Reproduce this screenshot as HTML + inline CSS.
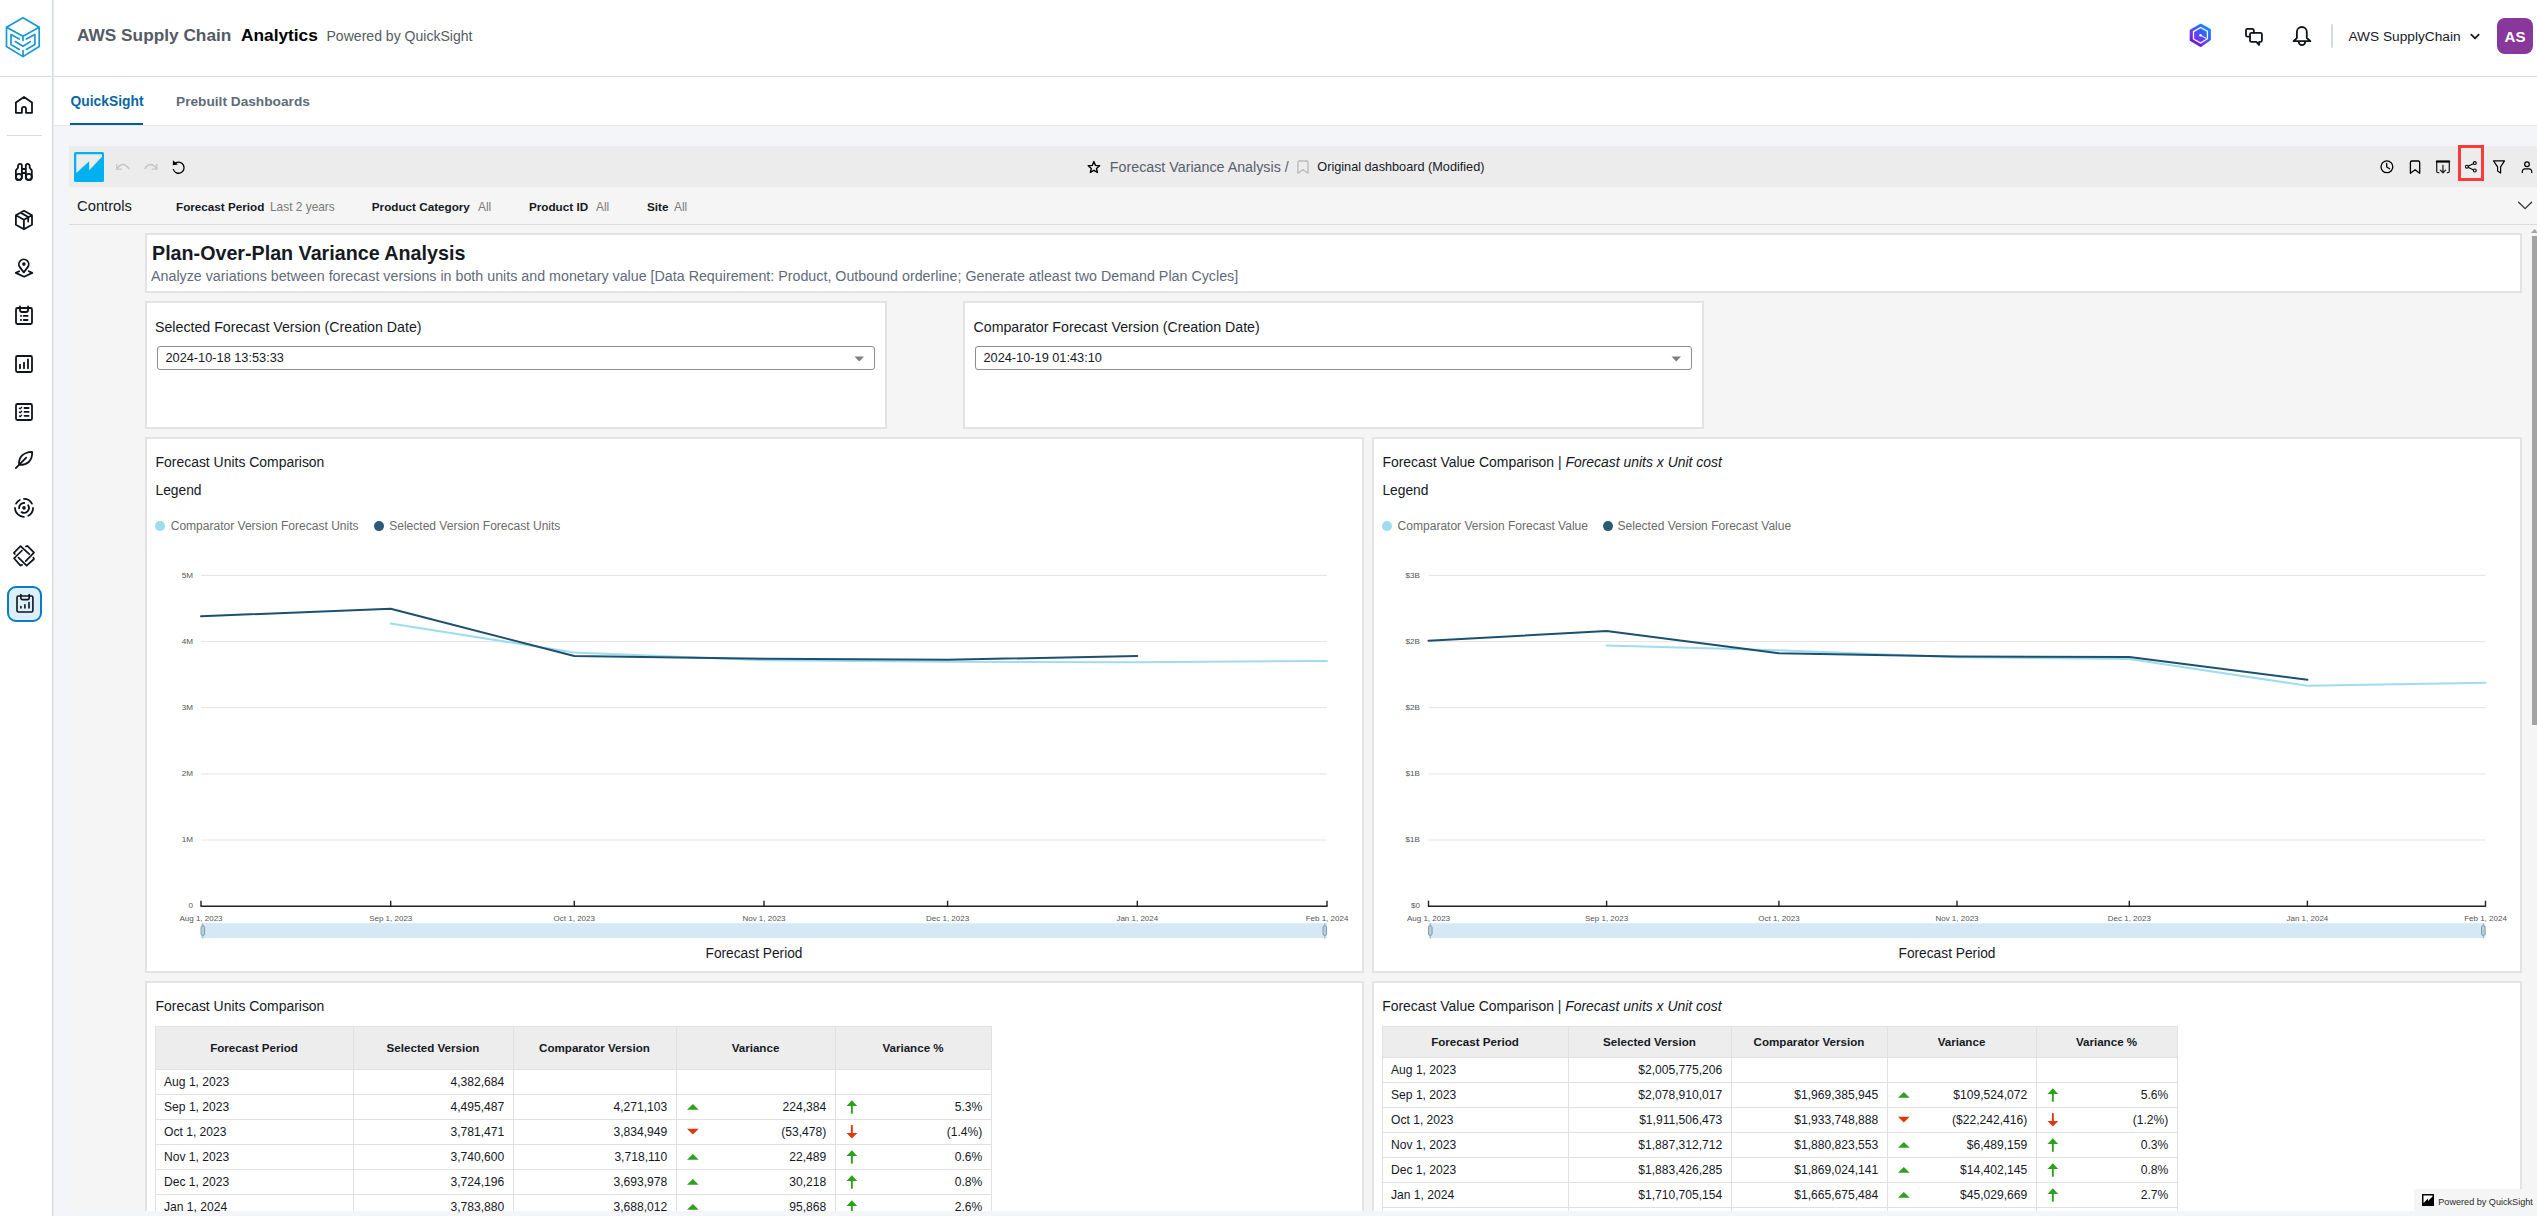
<!DOCTYPE html>
<html><head><meta charset="utf-8"><title>AWS Supply Chain Analytics</title><style>
*{margin:0;padding:0}
html,body{width:2537px;height:1216px;overflow:hidden;background:#fff}
body{position:relative;font-family:'Liberation Sans',Arial,sans-serif}
.t{position:absolute;white-space:pre}
.r{position:absolute;display:block}
svg{overflow:visible}
</style></head>
<body>
<div class="r" style="left:0px;top:0px;width:2537px;height:1216px;background:#ffffff;"></div>
<div class="r" style="left:54px;top:126px;width:2483px;height:1090px;background:#f4f5f8;"></div>
<div class="r" style="left:0px;top:76px;width:2537px;height:1px;background:#d5dbe0;"></div>
<div class="r" style="left:52px;top:0px;width:1px;height:1216px;background:#d3d9de;"></div>
<div class="r" style="left:53px;top:0px;width:1px;height:1216px;background:#e8ebee;"></div>
<div class="r" style="left:54px;top:125px;width:2483px;height:1px;background:#e7e9ec;"></div>
<div class="r" style="left:69px;top:146px;width:2468px;height:1065px;background:#f5f5f5;"></div>
<div class="r" style="left:69px;top:146px;width:2468px;height:41px;background:#ececec;"></div>
<div class="r" style="left:69px;top:224px;width:2468px;height:1px;background:#dcdcdc;"></div>
<div class="r" style="left:2497px;top:18px;width:36px;height:36px;background:#88379a;border-radius:8px;"></div>
<div class="r" style="left:2330.5px;top:24px;width:2px;height:24px;background:#d5dbe0;border-radius:1px;"></div>
<div class="r" style="left:70px;top:123px;width:73px;height:2px;background:#005f96;"></div>
<div class="r" style="left:145px;top:233px;width:2377px;height:60px;background:#ffffff;box-sizing:border-box;border:2px solid #e3e3e3;"></div>
<div class="r" style="left:145px;top:301px;width:742px;height:128px;background:#ffffff;box-sizing:border-box;border:2px solid #e3e3e3;"></div>
<div class="r" style="left:963px;top:301px;width:741px;height:128px;background:#ffffff;box-sizing:border-box;border:2px solid #e3e3e3;"></div>
<div class="r" style="left:145px;top:437px;width:1219px;height:536px;background:#ffffff;box-sizing:border-box;border:2px solid #e3e3e3;"></div>
<div class="r" style="left:1372px;top:437px;width:1150px;height:536px;background:#ffffff;box-sizing:border-box;border:2px solid #e3e3e3;"></div>
<div class="r" style="left:145px;top:981px;width:1219px;height:240px;background:#ffffff;box-sizing:border-box;border:2px solid #e3e3e3;"></div>
<div class="r" style="left:1372px;top:981px;width:1150px;height:240px;background:#ffffff;box-sizing:border-box;border:2px solid #e3e3e3;"></div>
<div class="r" style="left:157px;top:346px;width:718px;height:24px;background:#ffffff;box-sizing:border-box;border:1px solid #8d8d8d;border-radius:3px;"></div>
<svg class="r" style="left:854px;top:356px" width="11" height="6"><path d="M0.5 0.5 L10 0.5 L5.25 5.5 Z" fill="#7f7f7f"/></svg>
<div class="r" style="left:975px;top:346px;width:717px;height:24px;background:#ffffff;box-sizing:border-box;border:1px solid #8d8d8d;border-radius:3px;"></div>
<svg class="r" style="left:1671px;top:356px" width="11" height="6"><path d="M0.5 0.5 L10 0.5 L5.25 5.5 Z" fill="#7f7f7f"/></svg>
<svg class="r" style="left:0;top:0;font-family:'Liberation Sans',Arial,sans-serif" width="2537" height="1216"><line x1="201" y1="840.0" x2="1327" y2="840.0" stroke="#e4e4e4" stroke-width="1"/><line x1="201" y1="773.9" x2="1327" y2="773.9" stroke="#e4e4e4" stroke-width="1"/><line x1="201" y1="707.7" x2="1327" y2="707.7" stroke="#e4e4e4" stroke-width="1"/><line x1="201" y1="641.6" x2="1327" y2="641.6" stroke="#e4e4e4" stroke-width="1"/><line x1="201" y1="575.4" x2="1327" y2="575.4" stroke="#e4e4e4" stroke-width="1"/><text x="193.00" y="908.40" font-size="8.1" text-anchor="end" fill="#555" font-weight="400" font-style="normal">0</text><text x="193.00" y="842.24" font-size="8.1" text-anchor="end" fill="#555" font-weight="400" font-style="normal">1M</text><text x="193.00" y="776.08" font-size="8.1" text-anchor="end" fill="#555" font-weight="400" font-style="normal">2M</text><text x="193.00" y="709.92" font-size="8.1" text-anchor="end" fill="#555" font-weight="400" font-style="normal">3M</text><text x="193.00" y="643.76" font-size="8.1" text-anchor="end" fill="#555" font-weight="400" font-style="normal">4M</text><text x="193.00" y="577.60" font-size="8.1" text-anchor="end" fill="#555" font-weight="400" font-style="normal">5M</text><line x1="200.5" y1="906.2" x2="1327.5" y2="906.2" stroke="#222" stroke-width="1.6"/><line x1="201.0" y1="900.7" x2="201.0" y2="906.2" stroke="#222" stroke-width="1.4"/><text x="201.00" y="921.40" font-size="8.0" text-anchor="middle" fill="#555" font-weight="400" font-style="normal">Aug 1, 2023</text><line x1="390.7" y1="900.7" x2="390.7" y2="906.2" stroke="#222" stroke-width="1.4"/><text x="390.71" y="921.40" font-size="8.0" text-anchor="middle" fill="#555" font-weight="400" font-style="normal">Sep 1, 2023</text><line x1="574.3" y1="900.7" x2="574.3" y2="906.2" stroke="#222" stroke-width="1.4"/><text x="574.29" y="921.40" font-size="8.0" text-anchor="middle" fill="#555" font-weight="400" font-style="normal">Oct 1, 2023</text><line x1="764.0" y1="900.7" x2="764.0" y2="906.2" stroke="#222" stroke-width="1.4"/><text x="764.00" y="921.40" font-size="8.0" text-anchor="middle" fill="#555" font-weight="400" font-style="normal">Nov 1, 2023</text><line x1="947.6" y1="900.7" x2="947.6" y2="906.2" stroke="#222" stroke-width="1.4"/><text x="947.59" y="921.40" font-size="8.0" text-anchor="middle" fill="#555" font-weight="400" font-style="normal">Dec 1, 2023</text><line x1="1137.3" y1="900.7" x2="1137.3" y2="906.2" stroke="#222" stroke-width="1.4"/><text x="1137.29" y="921.40" font-size="8.0" text-anchor="middle" fill="#555" font-weight="400" font-style="normal">Jan 1, 2024</text><line x1="1327.0" y1="900.7" x2="1327.0" y2="906.2" stroke="#222" stroke-width="1.4"/><text x="1327.00" y="921.40" font-size="8.0" text-anchor="middle" fill="#555" font-weight="400" font-style="normal">Feb 1, 2024</text><polyline points="390.7,623.6 574.3,652.5 764.0,660.2 947.6,661.8 1137.3,662.2 1327.0,660.9" fill="none" stroke="#9fdcf0" stroke-width="2.0" stroke-linejoin="round" stroke-linecap="round"/><polyline points="201.0,616.2 390.7,608.8 574.3,656.0 764.0,658.7 947.6,659.8 1137.3,655.9" fill="none" stroke="#1c506e" stroke-width="2.0" stroke-linejoin="round" stroke-linecap="round"/><rect x="201" y="923.2" width="1126" height="14.8" fill="#d4e9f5"/><line x1="202.8" y1="923" x2="202.8" y2="938.5" stroke="#8aa6b5" stroke-width="0.8"/><rect x="201.0" y="925.8" width="3.6" height="9.6" rx="1.6" fill="#b9d0dc" stroke="#6f8a99" stroke-width="0.8"/><line x1="1324.8" y1="923" x2="1324.8" y2="938.5" stroke="#8aa6b5" stroke-width="0.8"/><rect x="1323.0" y="925.8" width="3.6" height="9.6" rx="1.6" fill="#b9d0dc" stroke="#6f8a99" stroke-width="0.8"/><line x1="1428.5" y1="840.0" x2="2485.5" y2="840.0" stroke="#e4e4e4" stroke-width="1"/><line x1="1428.5" y1="773.9" x2="2485.5" y2="773.9" stroke="#e4e4e4" stroke-width="1"/><line x1="1428.5" y1="707.7" x2="2485.5" y2="707.7" stroke="#e4e4e4" stroke-width="1"/><line x1="1428.5" y1="641.6" x2="2485.5" y2="641.6" stroke="#e4e4e4" stroke-width="1"/><line x1="1428.5" y1="575.4" x2="2485.5" y2="575.4" stroke="#e4e4e4" stroke-width="1"/><text x="1420.00" y="908.40" font-size="8.1" text-anchor="end" fill="#555" font-weight="400" font-style="normal">$0</text><text x="1420.00" y="842.24" font-size="8.1" text-anchor="end" fill="#555" font-weight="400" font-style="normal">$1B</text><text x="1420.00" y="776.08" font-size="8.1" text-anchor="end" fill="#555" font-weight="400" font-style="normal">$1B</text><text x="1420.00" y="709.92" font-size="8.1" text-anchor="end" fill="#555" font-weight="400" font-style="normal">$2B</text><text x="1420.00" y="643.76" font-size="8.1" text-anchor="end" fill="#555" font-weight="400" font-style="normal">$2B</text><text x="1420.00" y="577.60" font-size="8.1" text-anchor="end" fill="#555" font-weight="400" font-style="normal">$3B</text><line x1="1428.0" y1="906.2" x2="2486.0" y2="906.2" stroke="#222" stroke-width="1.6"/><line x1="1428.5" y1="900.7" x2="1428.5" y2="906.2" stroke="#222" stroke-width="1.4"/><text x="1428.50" y="921.40" font-size="8.0" text-anchor="middle" fill="#555" font-weight="400" font-style="normal">Aug 1, 2023</text><line x1="1606.6" y1="900.7" x2="1606.6" y2="906.2" stroke="#222" stroke-width="1.4"/><text x="1606.58" y="921.40" font-size="8.0" text-anchor="middle" fill="#555" font-weight="400" font-style="normal">Sep 1, 2023</text><line x1="1778.9" y1="900.7" x2="1778.9" y2="906.2" stroke="#222" stroke-width="1.4"/><text x="1778.92" y="921.40" font-size="8.0" text-anchor="middle" fill="#555" font-weight="400" font-style="normal">Oct 1, 2023</text><line x1="1957.0" y1="900.7" x2="1957.0" y2="906.2" stroke="#222" stroke-width="1.4"/><text x="1957.00" y="921.40" font-size="8.0" text-anchor="middle" fill="#555" font-weight="400" font-style="normal">Nov 1, 2023</text><line x1="2129.3" y1="900.7" x2="2129.3" y2="906.2" stroke="#222" stroke-width="1.4"/><text x="2129.34" y="921.40" font-size="8.0" text-anchor="middle" fill="#555" font-weight="400" font-style="normal">Dec 1, 2023</text><line x1="2307.4" y1="900.7" x2="2307.4" y2="906.2" stroke="#222" stroke-width="1.4"/><text x="2307.42" y="921.40" font-size="8.0" text-anchor="middle" fill="#555" font-weight="400" font-style="normal">Jan 1, 2024</text><line x1="2485.5" y1="900.7" x2="2485.5" y2="906.2" stroke="#222" stroke-width="1.4"/><text x="2485.50" y="921.40" font-size="8.0" text-anchor="middle" fill="#555" font-weight="400" font-style="normal">Feb 1, 2024</text><polyline points="1606.6,645.6 1778.9,650.3 1957.0,657.3 2129.3,658.9 2307.4,685.8 2485.5,682.7" fill="none" stroke="#9fdcf0" stroke-width="2.0" stroke-linejoin="round" stroke-linecap="round"/><polyline points="1428.5,640.8 1606.6,631.1 1778.9,653.3 1957.0,656.5 2129.3,657.0 2307.4,679.8" fill="none" stroke="#1c506e" stroke-width="2.0" stroke-linejoin="round" stroke-linecap="round"/><rect x="1428.5" y="923.2" width="1057.0" height="14.8" fill="#d4e9f5"/><line x1="1430.3" y1="923" x2="1430.3" y2="938.5" stroke="#8aa6b5" stroke-width="0.8"/><rect x="1428.5" y="925.8" width="3.6" height="9.6" rx="1.6" fill="#b9d0dc" stroke="#6f8a99" stroke-width="0.8"/><line x1="2483.3" y1="923" x2="2483.3" y2="938.5" stroke="#8aa6b5" stroke-width="0.8"/><rect x="2481.5" y="925.8" width="3.6" height="9.6" rx="1.6" fill="#b9d0dc" stroke="#6f8a99" stroke-width="0.8"/><circle cx="160" cy="526.1" r="5" fill="#9fdcf0"/><circle cx="379" cy="526.1" r="5" fill="#2b5a78"/><circle cx="1387" cy="526.1" r="5" fill="#9fdcf0"/><circle cx="1608" cy="526.1" r="5" fill="#2b5a78"/></svg>
<div class="r" style="left:155px;top:1026px;width:836px;height:43px;background:#ededed;"></div>
<div class="r" style="left:155px;top:1026px;width:1px;height:185px;background:#e1e1e1;"></div>
<div class="r" style="left:353px;top:1026px;width:1px;height:185px;background:#e1e1e1;"></div>
<div class="r" style="left:513px;top:1026px;width:1px;height:185px;background:#e1e1e1;"></div>
<div class="r" style="left:676px;top:1026px;width:1px;height:185px;background:#e1e1e1;"></div>
<div class="r" style="left:835px;top:1026px;width:1px;height:185px;background:#e1e1e1;"></div>
<div class="r" style="left:991px;top:1026px;width:1px;height:185px;background:#e1e1e1;"></div>
<div class="r" style="left:155px;top:1026px;width:837px;height:1px;background:#e1e1e1;"></div>
<div class="r" style="left:155px;top:1069px;width:837px;height:1px;background:#e1e1e1;"></div>
<div class="r" style="left:155px;top:1094px;width:837px;height:1px;background:#e1e1e1;"></div>
<div class="r" style="left:155px;top:1119px;width:837px;height:1px;background:#e1e1e1;"></div>
<div class="r" style="left:155px;top:1144px;width:837px;height:1px;background:#e1e1e1;"></div>
<div class="r" style="left:155px;top:1169px;width:837px;height:1px;background:#e1e1e1;"></div>
<div class="r" style="left:155px;top:1194px;width:837px;height:1px;background:#e1e1e1;"></div>
<svg class="r" style="left:0;top:0" width="2537" height="1211"><path d="M687.0 1109.8 L698.7 1109.8 L692.9 1104.0 Z" fill="#2da01d"/><rect x="850.90" y="1105.00" width="1.9" height="8.70" fill="#2da01d"/><path d="M846.50 1105.90 L851.85 1100.30 L857.20 1105.90 Z" fill="#2da01d"/><path d="M687.0 1128.8 L698.7 1128.8 L692.9 1134.6 Z" fill="#dc3a0d"/><rect x="850.90" y="1125.10" width="1.9" height="8.70" fill="#dc3a0d"/><path d="M846.50 1133.10 L851.85 1138.60 L857.20 1133.10 Z" fill="#dc3a0d"/><path d="M687.0 1159.8 L698.7 1159.8 L692.9 1154.0 Z" fill="#2da01d"/><rect x="850.90" y="1155.00" width="1.9" height="8.70" fill="#2da01d"/><path d="M846.50 1155.90 L851.85 1150.30 L857.20 1155.90 Z" fill="#2da01d"/><path d="M687.0 1184.8 L698.7 1184.8 L692.9 1179.0 Z" fill="#2da01d"/><rect x="850.90" y="1180.00" width="1.9" height="8.70" fill="#2da01d"/><path d="M846.50 1180.90 L851.85 1175.30 L857.20 1180.90 Z" fill="#2da01d"/><path d="M687.0 1209.8 L698.7 1209.8 L692.9 1204.0 Z" fill="#2da01d"/><rect x="850.90" y="1205.00" width="1.9" height="8.70" fill="#2da01d"/><path d="M846.50 1205.90 L851.85 1200.30 L857.20 1205.90 Z" fill="#2da01d"/></svg>
<div class="r" style="left:1382px;top:1026px;width:795px;height:31px;background:#ededed;"></div>
<div class="r" style="left:1382px;top:1026px;width:1px;height:185px;background:#e1e1e1;"></div>
<div class="r" style="left:1568px;top:1026px;width:1px;height:185px;background:#e1e1e1;"></div>
<div class="r" style="left:1731px;top:1026px;width:1px;height:185px;background:#e1e1e1;"></div>
<div class="r" style="left:1887px;top:1026px;width:1px;height:185px;background:#e1e1e1;"></div>
<div class="r" style="left:2036px;top:1026px;width:1px;height:185px;background:#e1e1e1;"></div>
<div class="r" style="left:2177px;top:1026px;width:1px;height:185px;background:#e1e1e1;"></div>
<div class="r" style="left:1382px;top:1026px;width:796px;height:1px;background:#e1e1e1;"></div>
<div class="r" style="left:1382px;top:1057px;width:796px;height:1px;background:#e1e1e1;"></div>
<div class="r" style="left:1382px;top:1082px;width:796px;height:1px;background:#e1e1e1;"></div>
<div class="r" style="left:1382px;top:1107px;width:796px;height:1px;background:#e1e1e1;"></div>
<div class="r" style="left:1382px;top:1132px;width:796px;height:1px;background:#e1e1e1;"></div>
<div class="r" style="left:1382px;top:1157px;width:796px;height:1px;background:#e1e1e1;"></div>
<div class="r" style="left:1382px;top:1182px;width:796px;height:1px;background:#e1e1e1;"></div>
<div class="r" style="left:1382px;top:1207px;width:796px;height:1px;background:#e1e1e1;"></div>
<svg class="r" style="left:0;top:0" width="2537" height="1211"><path d="M1898.0 1097.8 L1909.7 1097.8 L1903.8 1092.0 Z" fill="#2da01d"/><rect x="2051.90" y="1093.00" width="1.9" height="8.70" fill="#2da01d"/><path d="M2047.50 1093.90 L2052.85 1088.30 L2058.20 1093.90 Z" fill="#2da01d"/><path d="M1898.0 1116.8 L1909.7 1116.8 L1903.8 1122.6 Z" fill="#dc3a0d"/><rect x="2051.90" y="1113.10" width="1.9" height="8.70" fill="#dc3a0d"/><path d="M2047.50 1121.10 L2052.85 1126.60 L2058.20 1121.10 Z" fill="#dc3a0d"/><path d="M1898.0 1147.8 L1909.7 1147.8 L1903.8 1142.0 Z" fill="#2da01d"/><rect x="2051.90" y="1143.00" width="1.9" height="8.70" fill="#2da01d"/><path d="M2047.50 1143.90 L2052.85 1138.30 L2058.20 1143.90 Z" fill="#2da01d"/><path d="M1898.0 1172.8 L1909.7 1172.8 L1903.8 1167.0 Z" fill="#2da01d"/><rect x="2051.90" y="1168.00" width="1.9" height="8.70" fill="#2da01d"/><path d="M2047.50 1168.90 L2052.85 1163.30 L2058.20 1168.90 Z" fill="#2da01d"/><path d="M1898.0 1197.8 L1909.7 1197.8 L1903.8 1192.0 Z" fill="#2da01d"/><rect x="2051.90" y="1193.00" width="1.9" height="8.70" fill="#2da01d"/><path d="M2047.50 1193.90 L2052.85 1188.30 L2058.20 1193.90 Z" fill="#2da01d"/></svg>
<div class="r" style="left:2532px;top:236px;width:5px;height:489px;background:#a3a3a3;"></div>
<svg class="r" style="left:2530px;top:227px" width="8" height="8"><path d="M1 6 L4.5 2 L8 6 Z" fill="#a3a3a3"/></svg>
<div class="r" style="left:54px;top:1211px;width:2483px;height:5px;background:#f4f5f8;"></div>
<div class="r" style="left:2414px;top:1189px;width:123px;height:22px;background:#f5f5f5;"></div>
<svg class="r" style="left:2422px;top:1194px" width="12" height="12"><rect width="12" height="12" fill="#000"/><path d="M1.5 1.5 L10.5 1.5 L10.5 2.5 L6 7 L6 4.5 L1.5 9 Z" fill="#fff"/></svg>
<div class="r" style="left:7px;top:135px;width:35px;height:1px;background:#d5dbe0;"></div>
<div class="r" style="left:7px;top:586px;width:35px;height:36px;background:#dcf0fb;box-sizing:border-box;border:2px solid #0b7cbe;border-radius:9px;"></div>
<svg class="r" style="left:0;top:0" width="2537" height="1216"><path d="M23 17.8 L39.2 27.2 L39.2 46.5 L23 56.6 L6.5 46.5 L6.5 27.2 Z M6.5 27.2 L23 36.3 L39.2 27.2 M23 36.3 V40.4 M19.3 39.1 L11 34.4 V44.5 L19.3 49.4 M15.2 41.6 L23 46.3 L30.4 41.6 M26.3 39.1 L34.9 34.4 V44.5 L26.3 49.4 M23 50.7 V56.6" fill="none" stroke="#1798d5" stroke-width="1.7" stroke-linecap="round" stroke-linejoin="round" /><path d="M21.9 112.8 V108.9 A2.05 2.05 0 0 1 26 108.9 V112.8 H32 V102.6 L24 97 L15.9 102.6 V112.8 Z" fill="none" stroke="#0f141a" stroke-width="1.8" stroke-linecap="round" stroke-linejoin="round" /><path d="M18 165.9 A1.95 1.95 0 0 1 21.9 165.9 V176.9 A3 3 0 0 1 15.9 176.9 V170.4 L18 167.8 Z" fill="none" stroke="#0f141a" stroke-width="1.8" stroke-linecap="round" stroke-linejoin="round" /><path d="M18 165.9 A1.95 1.95 0 0 1 21.9 165.9 V176.9 A3 3 0 0 1 15.9 176.9 V170.4 L18 167.8 Z" fill="none" stroke="#0f141a" stroke-width="1.8" stroke-linecap="round" stroke-linejoin="round" transform="translate(47.7 0) scale(-1 1)"/><circle cx="18.9" cy="176.9" r="3" fill="none" stroke="#0f141a" stroke-width="1.8"/><circle cx="28.8" cy="176.9" r="3" fill="none" stroke="#0f141a" stroke-width="1.8"/><path d="M22 169 H25.7 M22 173 H25.7" fill="none" stroke="#0f141a" stroke-width="1.8" stroke-linecap="round" stroke-linejoin="round" /><path d="M24 210.7 L32 215.3 L32 224.7 L23.9 229.3 L15.9 224.7 L15.9 215.3 Z M15.9 215.3 L23.9 219.8 L32 215.3 M23.9 219.8 V229.3 M20.6 212.6 L28.2 217 V221.6" fill="none" stroke="#0f141a" stroke-width="1.8" stroke-linecap="round" stroke-linejoin="round" /><path d="M23.8 272.4 L19.87 267.13 A4.9 4.9 0 1 1 27.73 267.13 Z" fill="none" stroke="#0f141a" stroke-width="1.8" stroke-linecap="round" stroke-linejoin="round" /><circle cx="23.9" cy="264.1" r="1.8" fill="#0f141a"/><path d="M19.2 271.2 L15.8 272.9 L24.1 276.8 L32.3 272.9 L28.7 271.2" fill="none" stroke="#0f141a" stroke-width="1.8" stroke-linecap="round" stroke-linejoin="round" /><path d="M20 308 H17.5 A1.5 1.5 0 0 0 16 309.5 V322.5 A1.5 1.5 0 0 0 17.5 324 H30.5 A1.5 1.5 0 0 0 32 322.5 V309.5 A1.5 1.5 0 0 0 30.5 308 H28 M20 306.4 V310 A2 2 0 0 0 22 312 H26.1 A2 2 0 0 0 28.1 310 V306.4 M20 308 H28" fill="none" stroke="#0f141a" stroke-width="1.8" stroke-linecap="round" stroke-linejoin="round" /><path d="M20.9 315.9 H21.1 M20.9 320 H21.1 M23.7 315.9 H27.6 M23.7 320 H27.6" fill="none" stroke="#0f141a" stroke-width="1.8" stroke-linecap="round" stroke-linejoin="round" /><path d="M17.5 356 H30.5 A1.5 1.5 0 0 1 32 357.5 V370.5 A1.5 1.5 0 0 1 30.5 372 H17.5 A1.5 1.5 0 0 1 16 370.5 V357.5 A1.5 1.5 0 0 1 17.5 356 Z M20 368.3 V364.6 M24 368.3 V362.6 M28 368.3 V359.5" fill="none" stroke="#0f141a" stroke-width="1.8" stroke-linecap="round" stroke-linejoin="round" /><path d="M17.5 404 H30.5 A1.5 1.5 0 0 1 32 405.5 V418.5 A1.5 1.5 0 0 1 30.5 420 H17.5 A1.5 1.5 0 0 1 16 418.5 V405.5 A1.5 1.5 0 0 1 17.5 404 Z M24.5 408 H28.6 M24.5 411.9 H28.6 M24.5 415.8 H28.6" fill="none" stroke="#0f141a" stroke-width="1.8" stroke-linecap="round" stroke-linejoin="round" /><path d="M19.4 408.2 L20.3 408.8 L21.6 407.3 M19.4 412.1 L20.3 412.7 L21.6 411.2 M19.4 416 L20.3 416.6 L21.6 415.1" fill="none" stroke="#0f141a" stroke-width="1.3" stroke-linecap="round" stroke-linejoin="round" /><path d="M19 464.9 C18.4 457.5 23 452.2 32.1 451.9 C32.6 460.5 27.6 465.2 19 464.9 Z M19 464.9 L15.8 468.1 M20.7 463.1 L26.2 457.6" fill="none" stroke="#0f141a" stroke-width="1.8" stroke-linecap="round" stroke-linejoin="round" /><path d="M24.00 498.90 A9.0 9.0 0 0 1 31.95 503.67" fill="none" stroke="#0f141a" stroke-width="1.8" stroke-linecap="round" stroke-linejoin="round" /><path d="M33.00 507.90 A9.0 9.0 0 0 1 28.36 515.77" fill="none" stroke="#0f141a" stroke-width="1.8" stroke-linecap="round" stroke-linejoin="round" /><path d="M23.84 516.90 A9.0 9.0 0 0 1 15.00 507.90" fill="none" stroke="#0f141a" stroke-width="1.8" stroke-linecap="round" stroke-linejoin="round" /><path d="M16.05 503.67 A9.0 9.0 0 0 1 19.77 499.95" fill="none" stroke="#0f141a" stroke-width="1.8" stroke-linecap="round" stroke-linejoin="round" /><path d="M19.11 508.24 A4.9 4.9 0 0 1 24.26 503.01" fill="none" stroke="#0f141a" stroke-width="1.8" stroke-linecap="round" stroke-linejoin="round" /><path d="M28.16 505.30 A4.9 4.9 0 0 1 21.55 512.14" fill="none" stroke="#0f141a" stroke-width="1.8" stroke-linecap="round" stroke-linejoin="round" /><circle cx="24" cy="507.9" r="1.8" fill="#0f141a"/><path d="M14.8 554.1 L13.9 552.8 L20.5 546.1 L29.3 554.2 M25.9 546.5 L27.4 545.9 L34 552.6 L25.7 561.2 M22 550.5 L14 558.3 L20.5 565.6 L22.2 564.8 M18.5 557.7 L26.6 565.6 L34 559 L33.3 557.7" fill="none" stroke="#0f141a" stroke-width="1.7" stroke-linecap="round" stroke-linejoin="round" /><path d="M20.9 596 H18.5 A1.5 1.5 0 0 0 17 597.5 V610.5 A1.5 1.5 0 0 0 18.5 612 H31.4 A1.5 1.5 0 0 0 32.9 610.5 V597.5 A1.5 1.5 0 0 0 31.4 596 H29.2 M20.9 594.6 V598 A1.6 1.6 0 0 0 22.5 599.6 H27.6 A1.6 1.6 0 0 0 29.2 598 V594.6 M20.9 596 H29.2 M20.9 606.6 V607.9 M24.9 604.7 V607.9 M29 602.6 V607.9" fill="none" stroke="#0f141a" stroke-width="1.6" stroke-linecap="round" stroke-linejoin="round" /><defs><linearGradient id="qg" x1="1" y1="0" x2="0.2" y2="1"><stop offset="0" stop-color="#0a9bff"/><stop offset="0.45" stop-color="#3a5cff"/><stop offset="0.75" stop-color="#7a2ff5"/><stop offset="1" stop-color="#5514c4"/></linearGradient></defs><path d="M2200.6 25 L2209.6 29.9 L2209.6 39.5 L2200.6 45.6 L2191 40 L2191 30.7 Z" fill="url(#qg)" stroke="url(#qg)" stroke-width="2.6" stroke-linejoin="round"/><path d="M2200.6 27.5 L2207.4 31.2 L2207.4 38.7 L2200.6 43 L2193.5 39 L2193.5 31.6 Z" fill="none" stroke="#fff" stroke-width="1.3" stroke-linejoin="round"/><circle cx="2200.6" cy="35.3" r="1.3" fill="#fff"/><path d="M2200.6 35.3 L2206.2 38.3" stroke="#fff" stroke-width="1"/><path d="M2249.9 36.7 H2247.5 A1.5 1.5 0 0 1 2246 35.2 V30.4 A1.5 1.5 0 0 1 2247.5 28.9 H2252.3 A1.5 1.5 0 0 1 2253.8 30.4 V32.9" fill="none" stroke="#0f141a" stroke-width="1.8" stroke-linecap="round" stroke-linejoin="round" /><path d="M2256.3 41.9 H2251.5 A1.5 1.5 0 0 1 2250 40.4 V34.4 A1.5 1.5 0 0 1 2251.5 32.9 H2260.4 A1.5 1.5 0 0 1 2261.9 34.4 V40.4 A1.5 1.5 0 0 1 2260.4 41.9 H2259.2 L2259 44.9 Z" fill="none" stroke="#0f141a" stroke-width="1.8" stroke-linecap="round" stroke-linejoin="round" /><path d="M2293.6 41.2 L2296.9 38 V32 A4.95 5 0 0 1 2306.8 32 V38 L2310.4 41.2 Z M2298.7 41.8 A3.3 3.3 0 0 0 2305.3 41.8" fill="none" stroke="#0f141a" stroke-width="1.8" stroke-linecap="round" stroke-linejoin="round" /><path d="M2471.3 34.7 L2475 38.4 L2478.7 34.7" fill="none" stroke="#16191f" stroke-width="1.8" stroke-linecap="round" stroke-linejoin="round" /><rect x="74" y="152" width="30" height="30" rx="1.5" fill="#00b0ef"/><path d="M76.3 154.2 L102 154.2 L102 156.8 L89.2 170.3 L89.2 161.2 L76.3 173 Z" fill="#ececec"/><path d="M128.9 168.6 Q123 160.6 117.3 168.2 M116.8 164.5 V169.2 H121.4" fill="none" stroke="#c4c4c4" stroke-width="1.3" stroke-linecap="round" stroke-linejoin="round" /><path d="M144.7 168.6 Q150.6 160.6 156.3 168.2 M156.8 164.5 V169.2 H152.2" fill="none" stroke="#c4c4c4" stroke-width="1.3" stroke-linecap="round" stroke-linejoin="round" /><path d="M173.4 169.6 A5.5 5.5 0 1 0 175.6 163.1" fill="none" stroke="#000" stroke-width="1.3" stroke-linecap="round" stroke-linejoin="round" /><path d="M172.9 160.3 L172.9 165.3 L177.9 164.6 Z" fill="#000"/><path d="M1093.90 161.60 L1095.49 165.42 L1099.61 165.75 L1096.47 168.43 L1097.43 172.45 L1093.90 170.30 L1090.37 172.45 L1091.33 168.43 L1088.19 165.75 L1092.31 165.42 Z" fill="none" stroke="#000" stroke-width="1.4" stroke-linecap="round" stroke-linejoin="round" /><path d="M1297.9 173.3 V162.5 A1.5 1.5 0 0 1 1299.4 161 H1306.5 A1.5 1.5 0 0 1 1308 162.5 V173.3 L1302.95 169.8 Z" fill="none" stroke="#b9b9b9" stroke-width="1.3" stroke-linecap="round" stroke-linejoin="round" /><circle cx="2386.9" cy="166.8" r="5.9" fill="none" stroke="#000" stroke-width="1.3"/><path d="M2386.7 163.5 V167 L2389.6 168.7" fill="none" stroke="#000" stroke-width="1.3" stroke-linecap="round" stroke-linejoin="round" /><path d="M2410.4 173.3 V162.5 A1.5 1.5 0 0 1 2411.9 161 H2418.2 A1.5 1.5 0 0 1 2419.7 162.5 V173.3 L2415.05 169.8 Z" fill="none" stroke="#000" stroke-width="1.3" stroke-linecap="round" stroke-linejoin="round" /><path d="M2438.8 172.7 H2438.2 A1.5 1.5 0 0 1 2436.7 171.2 V161.5 H2449.3 V171.2 A1.5 1.5 0 0 1 2447.8 172.7 H2447.3" fill="none" stroke="#222" stroke-width="1.3" stroke-linecap="round" stroke-linejoin="round" /><path d="M2436.7 161.5 H2449.3" fill="none" stroke="#000" stroke-width="1.8" stroke-linecap="round" stroke-linejoin="round" /><path d="M2442.95 165.4 V172.6 M2440.3 170.1 L2442.95 172.7 L2445.6 170.1" fill="none" stroke="#222" stroke-width="1.3" stroke-linecap="round" stroke-linejoin="round" /><rect x="2459.5" y="146.5" width="23" height="33" fill="none" stroke="#fb3a3a" stroke-width="3"/><path d="M2466.9 166.7 L2474.8 163.1 M2466.9 166.7 L2474.8 170.5" fill="none" stroke="#000" stroke-width="1.1" stroke-linecap="round" stroke-linejoin="round" /><circle cx="2474.8" cy="163.1" r="1.45" fill="#eee" stroke="#000" stroke-width="1.1"/><circle cx="2466.9" cy="166.7" r="1.45" fill="#eee" stroke="#000" stroke-width="1.1"/><circle cx="2474.8" cy="170.5" r="1.45" fill="#eee" stroke="#000" stroke-width="1.1"/><path d="M2493.5 160.9 H2504.5 L2500.6 166.9 V173.1 L2497.6 171 V166.9 Z" fill="none" stroke="#000" stroke-width="1.2" stroke-linecap="round" stroke-linejoin="round" /><circle cx="2527" cy="164.3" r="2.35" fill="none" stroke="#000" stroke-width="1.2"/><path d="M2522.3 172.4 V171.5 A2.6 2.6 0 0 1 2524.9 168.9 H2529.1 A2.6 2.6 0 0 1 2531.7 171.5 V172.4" fill="none" stroke="#000" stroke-width="1.2" stroke-linecap="round" stroke-linejoin="round" /><path d="M2518.6 202.2 L2525.1 208.6 L2531.6 202.2" fill="none" stroke="#333" stroke-width="1.3" stroke-linecap="round" stroke-linejoin="round" /></svg>
<svg class="r" style="left:0;top:0" width="2537" height="1216" font-family="Liberation Sans, Arial, sans-serif"><text x="77.00" y="41.00" font-size="17.25" font-weight="700" fill="#545b64" font-style="normal" text-anchor="start" >AWS Supply Chain</text><text x="241.00" y="41.00" font-size="17.3" font-weight="700" fill="#000000" font-style="normal" text-anchor="start" >Analytics</text><text x="326.50" y="41.00" font-size="14.05" font-weight="400" fill="#545b64" font-style="normal" text-anchor="start" >Powered by QuickSight</text><text x="2348.50" y="40.90" font-size="13.7" font-weight="400" fill="#16191f" font-style="normal" text-anchor="start" >AWS SupplyChain</text><text x="2515.00" y="42.00" font-size="15.1" font-weight="700" fill="#ffffff" font-style="normal" text-anchor="middle" >AS</text><text x="70.50" y="105.90" font-size="13.85" font-weight="700" fill="#0868a3" font-style="normal" text-anchor="start" >QuickSight</text><text x="176.00" y="105.90" font-size="13.7" font-weight="700" fill="#5f6b7a" font-style="normal" text-anchor="start" >Prebuilt Dashboards</text><text x="1109.80" y="172.40" font-size="14.27" font-weight="400" fill="#58606c" font-style="normal" text-anchor="start" >Forecast Variance Analysis /</text><text x="1317.30" y="171.00" font-size="12.7" font-weight="400" fill="#16191f" font-style="normal" text-anchor="start" >Original dashboard (Modified)</text><text x="77.00" y="210.80" font-size="14.77" font-weight="400" fill="#16191f" font-style="normal" text-anchor="start" >Controls</text><text x="176.00" y="210.70" font-size="11.7" font-weight="700" fill="#16191f" font-style="normal" text-anchor="start" >Forecast Period</text><text x="270.00" y="210.70" font-size="11.9" font-weight="400" fill="#7a7a7a" font-style="normal" text-anchor="start" >Last 2 years</text><text x="371.80" y="210.70" font-size="11.7" font-weight="700" fill="#16191f" font-style="normal" text-anchor="start" >Product Category</text><text x="478.00" y="210.70" font-size="11.9" font-weight="400" fill="#7a7a7a" font-style="normal" text-anchor="start" >All</text><text x="529.00" y="210.70" font-size="11.7" font-weight="700" fill="#16191f" font-style="normal" text-anchor="start" >Product ID</text><text x="596.00" y="210.70" font-size="11.9" font-weight="400" fill="#7a7a7a" font-style="normal" text-anchor="start" >All</text><text x="647.00" y="210.70" font-size="11.7" font-weight="700" fill="#16191f" font-style="normal" text-anchor="start" >Site</text><text x="674.00" y="210.70" font-size="11.9" font-weight="400" fill="#7a7a7a" font-style="normal" text-anchor="start" >All</text><text x="152.00" y="259.80" font-size="19.7" font-weight="700" fill="#16191f" font-style="normal" text-anchor="start" >Plan-Over-Plan Variance Analysis</text><text x="151.00" y="281.20" font-size="14.28" font-weight="400" fill="#5f6b7a" font-style="normal" text-anchor="start" >Analyze variations between forecast versions in both units and monetary value [Data Requirement: Product, Outbound orderline; Generate atleast two Demand Plan Cycles]</text><text x="155.00" y="332.00" font-size="14.2" font-weight="400" fill="#16191f" font-style="normal" text-anchor="start" >Selected Forecast Version (Creation Date)</text><text x="165.50" y="362.40" font-size="12.75" font-weight="400" fill="#16191f" font-style="normal" text-anchor="start" >2024-10-18 13:53:33</text><text x="973.50" y="332.00" font-size="14.2" font-weight="400" fill="#16191f" font-style="normal" text-anchor="start" >Comparator Forecast Version (Creation Date)</text><text x="983.50" y="362.40" font-size="12.75" font-weight="400" fill="#16191f" font-style="normal" text-anchor="start" >2024-10-19 01:43:10</text><text x="155.50" y="467.00" font-size="13.95" font-weight="400" fill="#16191f" font-style="normal" text-anchor="start" >Forecast Units Comparison</text><text x="155.50" y="495.00" font-size="13.8" font-weight="400" fill="#16191f" font-style="normal" text-anchor="start" >Legend</text><text x="1382.40" y="467.00" font-size="13.95" font-weight="400" fill="#16191f" font-style="normal" text-anchor="start" >Forecast Value Comparison | </text><text x="1565.40" y="467.00" font-size="13.95" font-weight="400" fill="#16191f" font-style="italic" text-anchor="start" >Forecast units x Unit cost</text><text x="1382.40" y="495.00" font-size="13.8" font-weight="400" fill="#16191f" font-style="normal" text-anchor="start" >Legend</text><text x="170.70" y="530.30" font-size="12.04" font-weight="400" fill="#6b6b6b" font-style="normal" text-anchor="start" >Comparator Version Forecast Units</text><text x="389.20" y="530.30" font-size="12.04" font-weight="400" fill="#6b6b6b" font-style="normal" text-anchor="start" >Selected Version Forecast Units</text><text x="1397.60" y="530.30" font-size="12.04" font-weight="400" fill="#6b6b6b" font-style="normal" text-anchor="start" >Comparator Version Forecast Value</text><text x="1617.50" y="530.30" font-size="12.04" font-weight="400" fill="#6b6b6b" font-style="normal" text-anchor="start" >Selected Version Forecast Value</text><text x="754.00" y="958.20" font-size="13.74" font-weight="400" fill="#16191f" font-style="normal" text-anchor="middle" >Forecast Period</text><text x="1947.00" y="958.20" font-size="13.74" font-weight="400" fill="#16191f" font-style="normal" text-anchor="middle" >Forecast Period</text><text x="155.50" y="1010.90" font-size="13.95" font-weight="400" fill="#16191f" font-style="normal" text-anchor="start" >Forecast Units Comparison</text><text x="254.00" y="1051.90" font-size="11.6" font-weight="700" fill="#16191f" font-style="normal" text-anchor="middle" >Forecast Period</text><text x="433.00" y="1051.90" font-size="11.6" font-weight="700" fill="#16191f" font-style="normal" text-anchor="middle" >Selected Version</text><text x="594.50" y="1051.90" font-size="11.6" font-weight="700" fill="#16191f" font-style="normal" text-anchor="middle" >Comparator Version</text><text x="755.50" y="1051.90" font-size="11.6" font-weight="700" fill="#16191f" font-style="normal" text-anchor="middle" >Variance</text><text x="913.00" y="1051.90" font-size="11.6" font-weight="700" fill="#16191f" font-style="normal" text-anchor="middle" >Variance %</text><text x="164.00" y="1086.00" font-size="12.1" font-weight="400" fill="#16191f" font-style="normal" text-anchor="start" >Aug 1, 2023</text><text x="504.30" y="1086.00" font-size="12.1" font-weight="400" fill="#16191f" font-style="normal" text-anchor="end" >4,382,684</text><text x="164.00" y="1111.00" font-size="12.1" font-weight="400" fill="#16191f" font-style="normal" text-anchor="start" >Sep 1, 2023</text><text x="504.30" y="1111.00" font-size="12.1" font-weight="400" fill="#16191f" font-style="normal" text-anchor="end" >4,495,487</text><text x="667.30" y="1111.00" font-size="12.1" font-weight="400" fill="#16191f" font-style="normal" text-anchor="end" >4,271,103</text><text x="826.30" y="1111.00" font-size="12.1" font-weight="400" fill="#16191f" font-style="normal" text-anchor="end" >224,384</text><text x="982.30" y="1111.00" font-size="12.1" font-weight="400" fill="#16191f" font-style="normal" text-anchor="end" >5.3%</text><text x="164.00" y="1136.00" font-size="12.1" font-weight="400" fill="#16191f" font-style="normal" text-anchor="start" >Oct 1, 2023</text><text x="504.30" y="1136.00" font-size="12.1" font-weight="400" fill="#16191f" font-style="normal" text-anchor="end" >3,781,471</text><text x="667.30" y="1136.00" font-size="12.1" font-weight="400" fill="#16191f" font-style="normal" text-anchor="end" >3,834,949</text><text x="826.30" y="1136.00" font-size="12.1" font-weight="400" fill="#16191f" font-style="normal" text-anchor="end" >(53,478)</text><text x="982.30" y="1136.00" font-size="12.1" font-weight="400" fill="#16191f" font-style="normal" text-anchor="end" >(1.4%)</text><text x="164.00" y="1161.00" font-size="12.1" font-weight="400" fill="#16191f" font-style="normal" text-anchor="start" >Nov 1, 2023</text><text x="504.30" y="1161.00" font-size="12.1" font-weight="400" fill="#16191f" font-style="normal" text-anchor="end" >3,740,600</text><text x="667.30" y="1161.00" font-size="12.1" font-weight="400" fill="#16191f" font-style="normal" text-anchor="end" >3,718,110</text><text x="826.30" y="1161.00" font-size="12.1" font-weight="400" fill="#16191f" font-style="normal" text-anchor="end" >22,489</text><text x="982.30" y="1161.00" font-size="12.1" font-weight="400" fill="#16191f" font-style="normal" text-anchor="end" >0.6%</text><text x="164.00" y="1186.00" font-size="12.1" font-weight="400" fill="#16191f" font-style="normal" text-anchor="start" >Dec 1, 2023</text><text x="504.30" y="1186.00" font-size="12.1" font-weight="400" fill="#16191f" font-style="normal" text-anchor="end" >3,724,196</text><text x="667.30" y="1186.00" font-size="12.1" font-weight="400" fill="#16191f" font-style="normal" text-anchor="end" >3,693,978</text><text x="826.30" y="1186.00" font-size="12.1" font-weight="400" fill="#16191f" font-style="normal" text-anchor="end" >30,218</text><text x="982.30" y="1186.00" font-size="12.1" font-weight="400" fill="#16191f" font-style="normal" text-anchor="end" >0.8%</text><text x="164.00" y="1211.00" font-size="12.1" font-weight="400" fill="#16191f" font-style="normal" text-anchor="start" >Jan 1, 2024</text><text x="504.30" y="1211.00" font-size="12.1" font-weight="400" fill="#16191f" font-style="normal" text-anchor="end" >3,783,880</text><text x="667.30" y="1211.00" font-size="12.1" font-weight="400" fill="#16191f" font-style="normal" text-anchor="end" >3,688,012</text><text x="826.30" y="1211.00" font-size="12.1" font-weight="400" fill="#16191f" font-style="normal" text-anchor="end" >95,868</text><text x="982.30" y="1211.00" font-size="12.1" font-weight="400" fill="#16191f" font-style="normal" text-anchor="end" >2.6%</text><text x="1382.20" y="1011.10" font-size="13.95" font-weight="400" fill="#16191f" font-style="normal" text-anchor="start" >Forecast Value Comparison | </text><text x="1565.20" y="1011.10" font-size="13.95" font-weight="400" fill="#16191f" font-style="italic" text-anchor="start" >Forecast units x Unit cost</text><text x="1475.00" y="1045.90" font-size="11.6" font-weight="700" fill="#16191f" font-style="normal" text-anchor="middle" >Forecast Period</text><text x="1649.50" y="1045.90" font-size="11.6" font-weight="700" fill="#16191f" font-style="normal" text-anchor="middle" >Selected Version</text><text x="1809.00" y="1045.90" font-size="11.6" font-weight="700" fill="#16191f" font-style="normal" text-anchor="middle" >Comparator Version</text><text x="1961.50" y="1045.90" font-size="11.6" font-weight="700" fill="#16191f" font-style="normal" text-anchor="middle" >Variance</text><text x="2106.50" y="1045.90" font-size="11.6" font-weight="700" fill="#16191f" font-style="normal" text-anchor="middle" >Variance %</text><text x="1391.00" y="1074.00" font-size="12.1" font-weight="400" fill="#16191f" font-style="normal" text-anchor="start" >Aug 1, 2023</text><text x="1722.30" y="1074.00" font-size="12.1" font-weight="400" fill="#16191f" font-style="normal" text-anchor="end" >$2,005,775,206</text><text x="1391.00" y="1099.00" font-size="12.1" font-weight="400" fill="#16191f" font-style="normal" text-anchor="start" >Sep 1, 2023</text><text x="1722.30" y="1099.00" font-size="12.1" font-weight="400" fill="#16191f" font-style="normal" text-anchor="end" >$2,078,910,017</text><text x="1878.30" y="1099.00" font-size="12.1" font-weight="400" fill="#16191f" font-style="normal" text-anchor="end" >$1,969,385,945</text><text x="2027.30" y="1099.00" font-size="12.1" font-weight="400" fill="#16191f" font-style="normal" text-anchor="end" >$109,524,072</text><text x="2168.30" y="1099.00" font-size="12.1" font-weight="400" fill="#16191f" font-style="normal" text-anchor="end" >5.6%</text><text x="1391.00" y="1124.00" font-size="12.1" font-weight="400" fill="#16191f" font-style="normal" text-anchor="start" >Oct 1, 2023</text><text x="1722.30" y="1124.00" font-size="12.1" font-weight="400" fill="#16191f" font-style="normal" text-anchor="end" >$1,911,506,473</text><text x="1878.30" y="1124.00" font-size="12.1" font-weight="400" fill="#16191f" font-style="normal" text-anchor="end" >$1,933,748,888</text><text x="2027.30" y="1124.00" font-size="12.1" font-weight="400" fill="#16191f" font-style="normal" text-anchor="end" >($22,242,416)</text><text x="2168.30" y="1124.00" font-size="12.1" font-weight="400" fill="#16191f" font-style="normal" text-anchor="end" >(1.2%)</text><text x="1391.00" y="1149.00" font-size="12.1" font-weight="400" fill="#16191f" font-style="normal" text-anchor="start" >Nov 1, 2023</text><text x="1722.30" y="1149.00" font-size="12.1" font-weight="400" fill="#16191f" font-style="normal" text-anchor="end" >$1,887,312,712</text><text x="1878.30" y="1149.00" font-size="12.1" font-weight="400" fill="#16191f" font-style="normal" text-anchor="end" >$1,880,823,553</text><text x="2027.30" y="1149.00" font-size="12.1" font-weight="400" fill="#16191f" font-style="normal" text-anchor="end" >$6,489,159</text><text x="2168.30" y="1149.00" font-size="12.1" font-weight="400" fill="#16191f" font-style="normal" text-anchor="end" >0.3%</text><text x="1391.00" y="1174.00" font-size="12.1" font-weight="400" fill="#16191f" font-style="normal" text-anchor="start" >Dec 1, 2023</text><text x="1722.30" y="1174.00" font-size="12.1" font-weight="400" fill="#16191f" font-style="normal" text-anchor="end" >$1,883,426,285</text><text x="1878.30" y="1174.00" font-size="12.1" font-weight="400" fill="#16191f" font-style="normal" text-anchor="end" >$1,869,024,141</text><text x="2027.30" y="1174.00" font-size="12.1" font-weight="400" fill="#16191f" font-style="normal" text-anchor="end" >$14,402,145</text><text x="2168.30" y="1174.00" font-size="12.1" font-weight="400" fill="#16191f" font-style="normal" text-anchor="end" >0.8%</text><text x="1391.00" y="1199.00" font-size="12.1" font-weight="400" fill="#16191f" font-style="normal" text-anchor="start" >Jan 1, 2024</text><text x="1722.30" y="1199.00" font-size="12.1" font-weight="400" fill="#16191f" font-style="normal" text-anchor="end" >$1,710,705,154</text><text x="1878.30" y="1199.00" font-size="12.1" font-weight="400" fill="#16191f" font-style="normal" text-anchor="end" >$1,665,675,484</text><text x="2027.30" y="1199.00" font-size="12.1" font-weight="400" fill="#16191f" font-style="normal" text-anchor="end" >$45,029,669</text><text x="2168.30" y="1199.00" font-size="12.1" font-weight="400" fill="#16191f" font-style="normal" text-anchor="end" >2.7%</text><text x="2438.30" y="1205.00" font-size="9.1" font-weight="400" fill="#2b2b2b" font-style="normal" text-anchor="start" >Powered by QuickSight</text></svg>
</body></html>
